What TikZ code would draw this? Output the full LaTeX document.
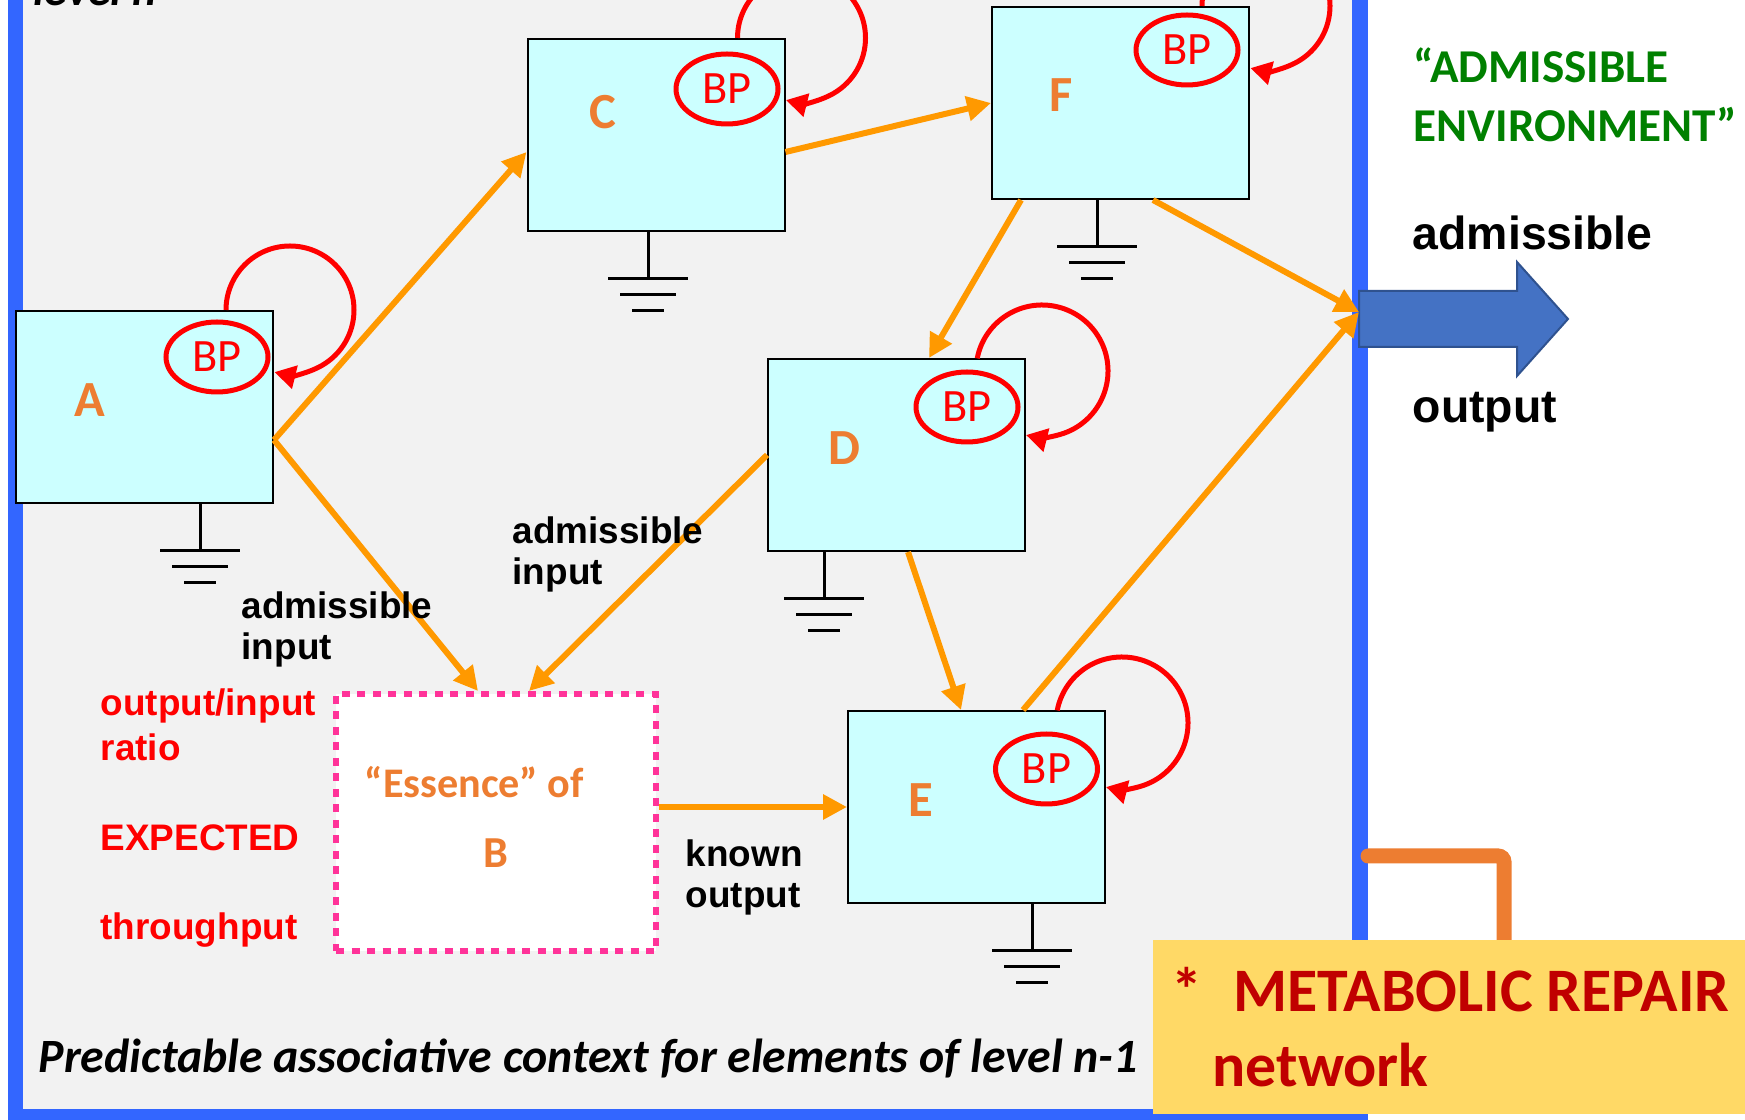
\documentclass[tikz,border=0pt]{standalone}
\usepackage{fontspec}
\setmainfont{Carlito}
\setsansfont{Liberation Sans}
\usetikzlibrary{arrows.meta, shapes.geometric, calc}
\definecolor{panelgray}{RGB}{242,242,242}
\definecolor{frameblue}{RGB}{51,102,255}
\definecolor{boxcyan}{RGB}{204,255,255}
\definecolor{flowor}{RGB}{255,153,0}
\definecolor{letteror}{RGB}{237,125,49}
\definecolor{essencepink}{RGB}{255,51,153}
\definecolor{envgreen}{RGB}{0,128,0}
\definecolor{repairyel}{RGB}{255,217,102}
\definecolor{repairred}{RGB}{192,0,0}
\definecolor{outblue}{RGB}{68,114,196}
\definecolor{outedge}{RGB}{47,82,143}

\begin{document}
\begin{tikzpicture}[x=0.1mm, y=-0.1mm,
    subsys/.style={draw=black, line width=0.2mm, fill=boxcyan, minimum width=25.7mm,
                   minimum height=19.2mm, inner sep=0pt},
    essence/.style={draw=essencepink, line width=0.6mm, dash pattern=on 0.8mm off 0.75mm,
                    fill=white, minimum width=32mm, minimum height=25.7mm, inner sep=0pt},
    bp/.style={ellipse, draw=red, line width=0.5mm, minimum width=10.2mm, minimum height=7mm,
               inner sep=0pt, text=red, font=\fontsize{13.2}{14}\selectfont},
    letter/.style={text=letteror, font=\bfseries\fontsize{14.4}{16}\selectfont, inner sep=0pt},
    flow/.style={-{Triangle[length=2.4mm, width=2.4mm]}, line width=0.6mm, flowor},
    selfloop/.style={-{Triangle[length=2.1mm, width=2.3mm]}, line width=0.5mm, red},
    gnd/.style={line width=0.3mm, black},
    lbl/.style={font=\sffamily\bfseries\fontsize{10.5}{11.9}\selectfont, align=left,
                anchor=base west, inner sep=0pt},
    redlbl/.style={lbl, text=red, font=\sffamily\bfseries\fontsize{10.5}{12.8}\selectfont},
    bigtxt/.style={anchor=base west, inner sep=0pt, align=left}
  ]
    \useasboundingbox (0,0) rectangle (1745,1120);
    \clip (0,0) rectangle (1745,1120);

    % Level n panel
    \fill[panelgray] (8,-20) rectangle (1368,1125);
    \draw[frameblue, line width=1.55mm] (15.5,-20) -- (15.5,1117) -- (1360,1117) -- (1360,-20);
    \node[bigtxt, font=\bfseries\itshape\fontsize{13}{15}\selectfont] (lvl) at (33,6) {level n};

    % Subsystems
    \node[subsys] (A) at (144.5,407) {};
    \node[subsys] (C) at (656,135) {};
    \node[subsys] (F) at (1120.5,103) {};
    \node[subsys] (D) at (896.5,455) {};
    \node[subsys] (E) at (976.5,807) {};
    \node[essence] (B) at (496,822.5) {};

    \node[letter] (Aname) at ($(A)+(-54.5,-7)$) {A};
    \node[letter] (Cname) at ($(C)+(-53,-23)$) {C};
    \node[letter] (Fname) at ($(F)+(-59.5,-8)$) {F};
    \node[letter] (Dname) at ($(D)+(-52.5,-7)$) {D};
    \node[letter] (Ename) at ($(E)+(-55.5,-7)$) {E};

    % BP with self loops
    \foreach \n/\dx/\dy in {A/72.5/-50, C/71/-46, F/66.5/-53, D/70.5/-48, E/70/-38}
      \node[bp] (bp\n) at ($(\n)+(\dx,\dy)$) {BP};
    \foreach \n/\dy/\r/\sa in {A/0/64/180, C/0/64/180, F/0/64/180, D/13/66/191, E/13/66/191}
      \draw[selfloop] ($(\n.north east)+(16,\dy)$) ++(\sa:\r)
        arc[start angle=\sa, end angle=464, radius=\r];

    % Grounds
    \foreach \n/\dx in {A/55.5, C/-8, F/-23.5, D/-72.5, E/55.5}
      \draw[gnd] ($(\n.south)+(\dx,0)$) -- ++(0,47) ++(-40,0) -- ++(80,0)
        ++(-68,16) -- ++(56,0) ++(-44,16) -- ++(32,0);

    % Admissible output arrow
    \coordinate (outin) at (1359,312);
    \draw[outedge, fill=outblue, line width=0.2mm] (1359,291) -- (1517,291) -- (1517,262)
      -- (1568,319) -- (1517,376) -- (1517,347) -- (1359,347) -- cycle;

    % Flows
    \draw[flow] ($(A.east)+(0,33)$) -- ($(C.west)+(0,17)$);
    \draw[flow] ($(A.east)+(0,33)$) -- ($(B.north)+(-18,0)$);
    \draw[flow] (D.west) -- ($(B.north)+(33,0)$);
    \draw[flow] ($(C.east)+(0,17)$) -- (F.west);
    \draw[flow] ($(F.south)+(-99.5,0)$) -- ($(D.north)+(32.5,0)$);
    \draw[flow] ($(F.south)+(32.5,0)$) -- (outin);
    \draw[flow] ($(D.south)+(11.5,0)$) -- ($(E.north)+(-15.5,0)$);
    \draw[flow] ($(E.north)+(46.5,0)$) -- (outin);
    \draw[flow] ($(B.east)+(0,-15.5)$) -- (E.west);

    % Labels (multi-line nodes sit on their last baseline)
    \node[lbl] (inA) at (241,660) {admissible\\input};
    \node[lbl] (inD) at (512,585) {admissible\\input};
    \node[lbl] (known) at (685,908) {known\\output};
    \node[redlbl] (ratio) at (100,940) {output/input\\ratio\\[4.5mm]EXPECTED\\[4.5mm]throughput};
    \node[bigtxt, text=letteror, font=\bfseries\fontsize{12}{14}\selectfont] (ess) at (364,798) {“Essence” of};
    \node[letter, anchor=base, font=\bfseries\fontsize{12.6}{14}\selectfont] (Bname) at (496,868) {B};

    \node[bigtxt, text=envgreen, font=\bfseries\fontsize{13.4}{16.8}\selectfont] (env) at (1413,142) {“ADMISSIBLE\\ENVIRONMENT”};
    \node[bigtxt, font=\sffamily\bfseries\fontsize{13.2}{15}\selectfont] (admout) at (1412,250) {admissible};
    \node[bigtxt, font=\sffamily\bfseries\fontsize{13.2}{15}\selectfont] (outlbl) at (1412,423) {output};

    \node[bigtxt, font=\bfseries\itshape\fontsize{13.6}{15}\selectfont] (ctx) at (38,1072)
      {Predictable associative context for elements of level n-1};

    % Metabolic repair
    \coordinate (brk) at (1368,856);
    \coordinate (brkend) at (1504,950);
    \draw[letteror, line width=1.5mm, line cap=round, rounded corners=0.6mm] (brk) -| (brkend);
    \node[fill=repairyel, anchor=north west, minimum height=17.4mm, text width=62mm,
          inner xsep=1.9mm, inner ysep=0pt, align=flush left, text=repairred,
          font=\bfseries\fontsize{17.6}{21.3}\selectfont] (repair) at (1152,939)
      {*\hspace{3.1mm}METABOLIC REPAIR\\\hspace*{4.1mm}network};

  \end{tikzpicture}
\end{document}
